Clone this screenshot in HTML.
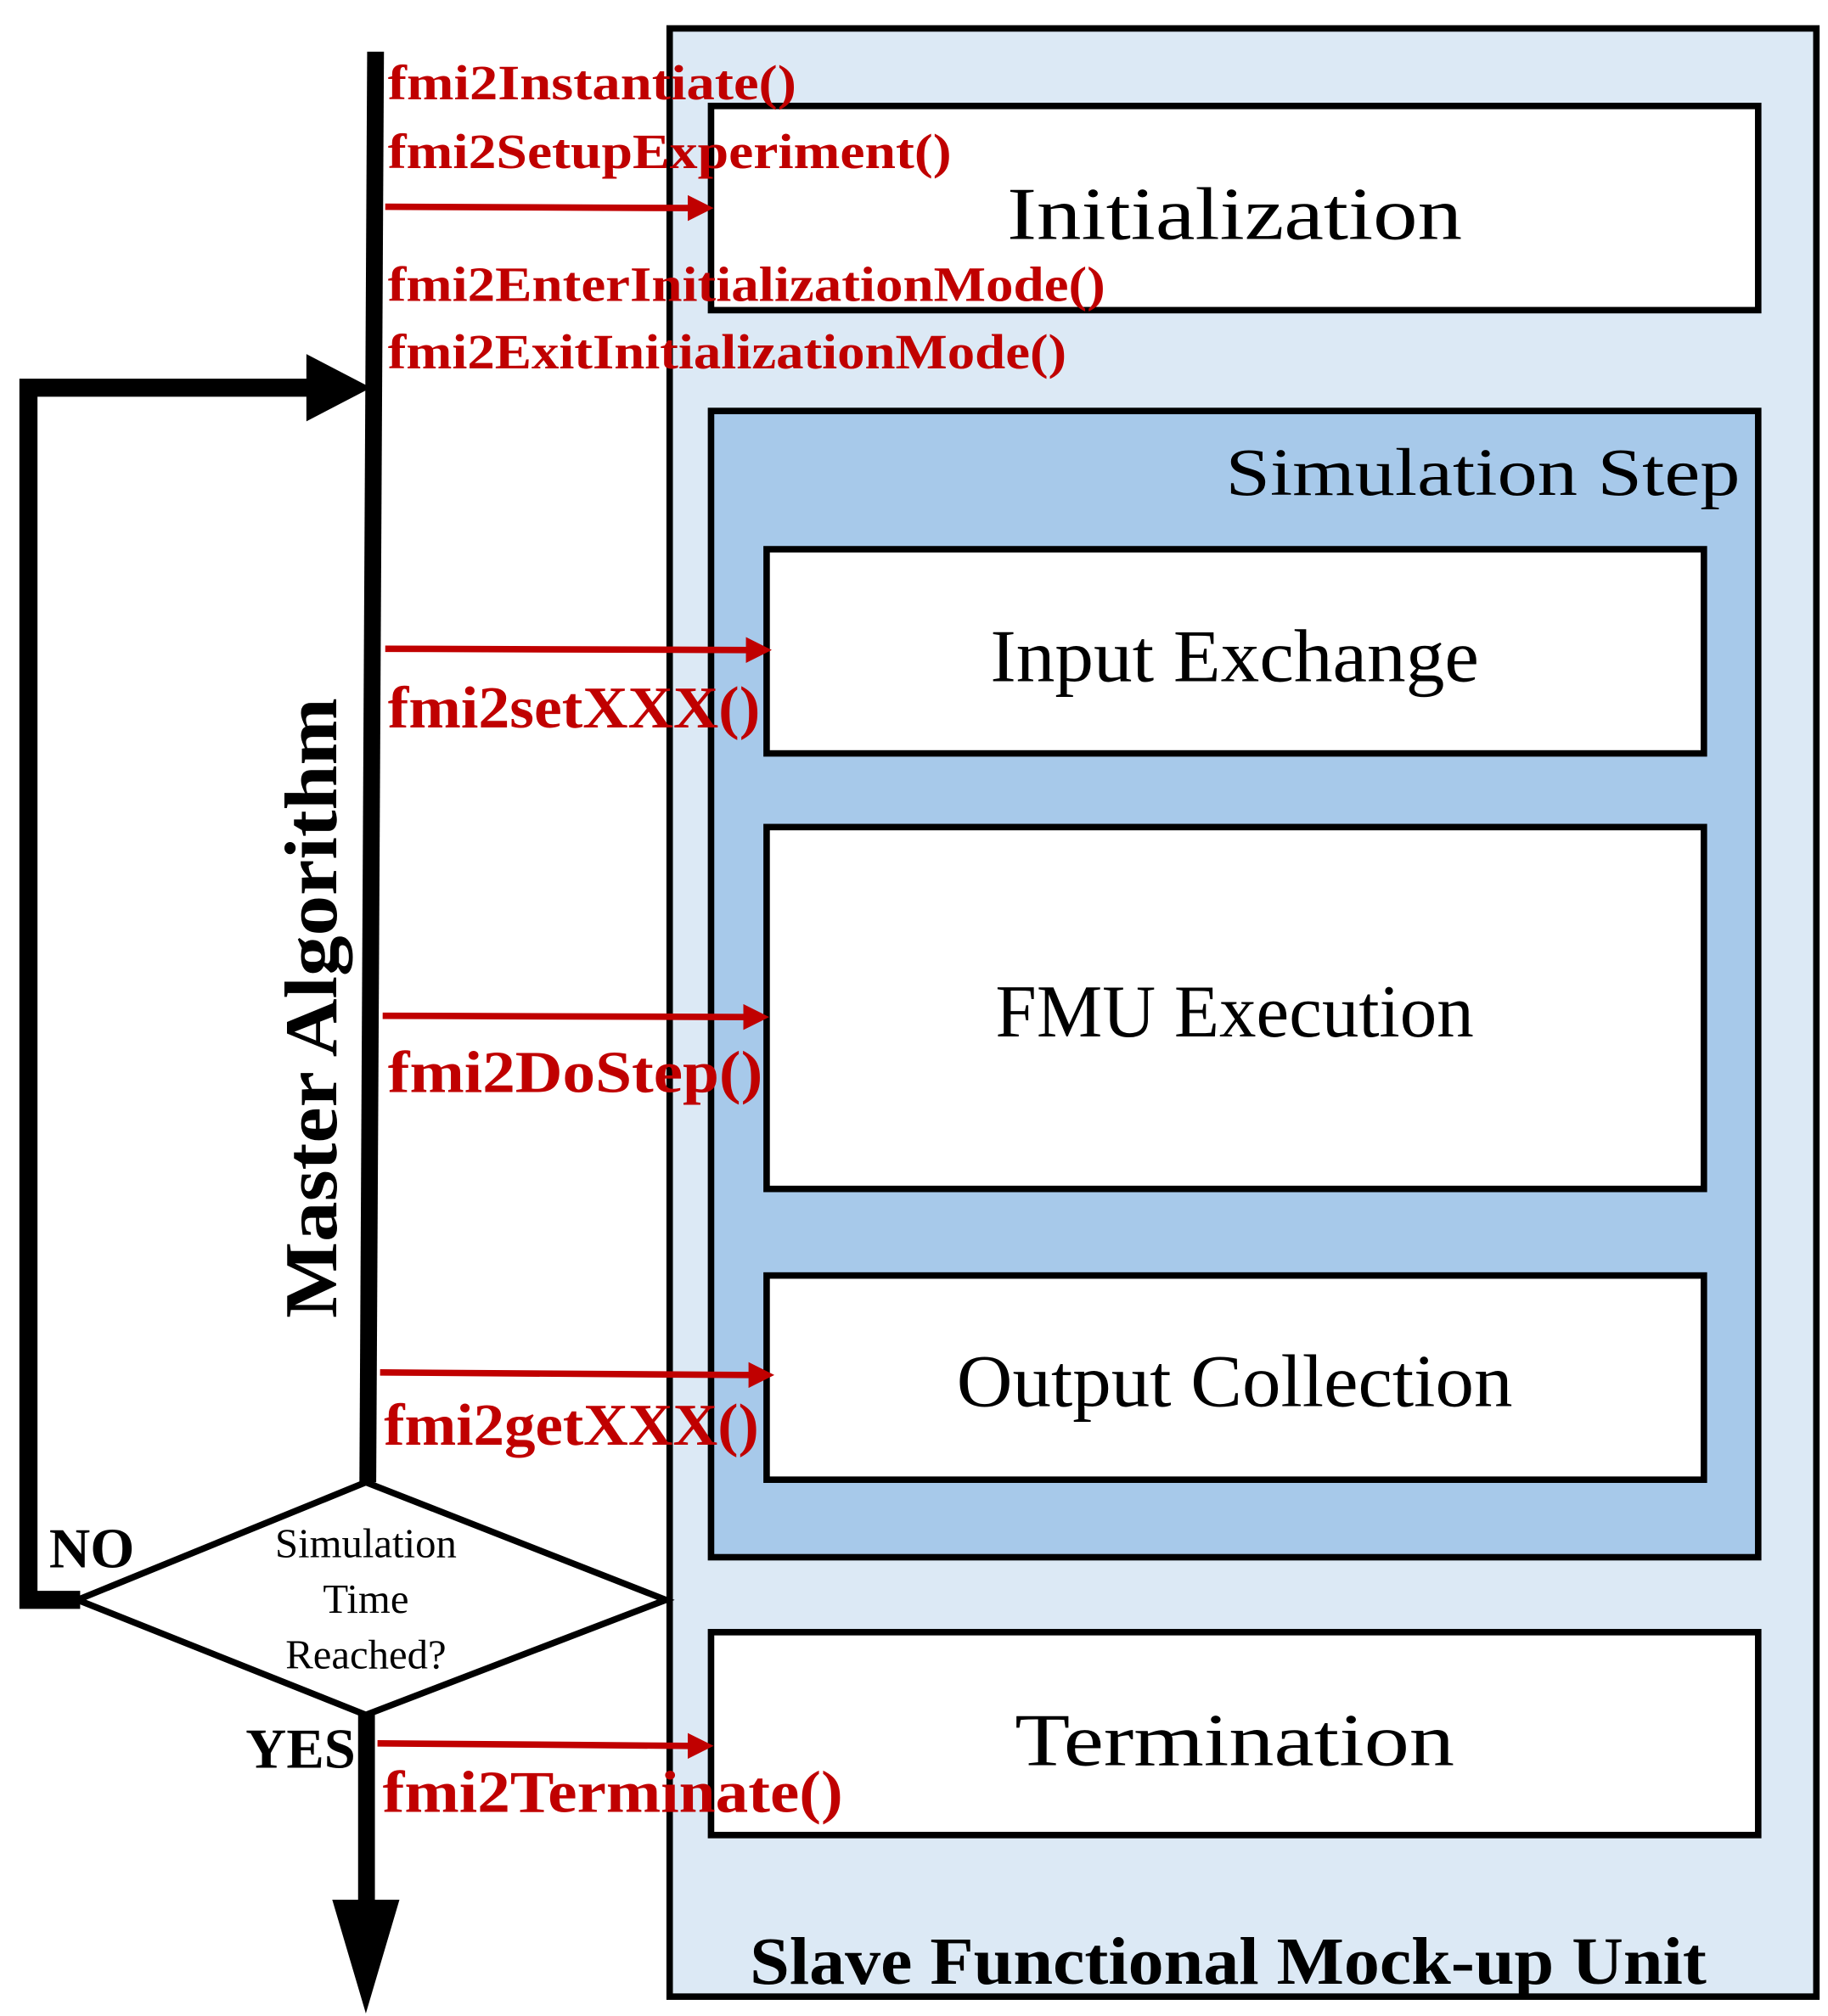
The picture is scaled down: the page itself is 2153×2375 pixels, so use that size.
<!DOCTYPE html>
<html><head><meta charset="utf-8"><style>html,body{margin:0;padding:0;background:#fff}svg{display:block}</style></head>
<body>
<svg width="2153" height="2375" viewBox="0 0 1414 1560" preserveAspectRatio="none" xmlns="http://www.w3.org/2000/svg" font-family="'Liberation Serif', serif">
<rect x="518" y="22" width="887" height="1523" fill="#dce9f5" stroke="#000" stroke-width="5"/>
<rect x="550" y="82" width="810" height="158" fill="#fff" stroke="#000" stroke-width="5"/>
<rect x="550" y="318" width="810" height="887" fill="#a7c9ea" stroke="#000" stroke-width="5"/>
<rect x="593" y="425" width="725" height="158" fill="#fff" stroke="#000" stroke-width="5"/>
<rect x="593" y="640" width="725" height="280" fill="#fff" stroke="#000" stroke-width="5"/>
<rect x="593" y="987" width="725" height="158" fill="#fff" stroke="#000" stroke-width="5"/>
<rect x="550" y="1263" width="810" height="157" fill="#fff" stroke="#000" stroke-width="5"/>
<g font-size="58" text-anchor="middle" fill="#000">
<text x="955" y="185" textLength="352" lengthAdjust="spacingAndGlyphs">Initialization</text>
<text x="955" y="527" textLength="378" lengthAdjust="spacingAndGlyphs">Input Exchange</text>
<text x="955" y="802" textLength="370" lengthAdjust="spacingAndGlyphs">FMU Execution</text>
<text x="955" y="1088" textLength="430" lengthAdjust="spacingAndGlyphs">Output Collection</text>
<text x="955" y="1366" textLength="340" lengthAdjust="spacingAndGlyphs">Termination</text>
</g>
<text x="948" y="383" font-size="52" textLength="398" lengthAdjust="spacingAndGlyphs">Simulation  Step</text>
<text x="950" y="1535" font-size="52" font-weight="bold" text-anchor="middle" textLength="740" lengthAdjust="spacingAndGlyphs">Slave Functional Mock-up Unit</text>
<!-- master line -->
<polygon points="284,40 297,40 291,1147 278,1147" fill="#000"/>
<!-- loop -->
<polyline points="62,1238 22,1238 22,300 245,300" fill="none" stroke="#000" stroke-width="14"/>
<polygon points="237,274 287,300 237,326" fill="#000"/>
<!-- diamond -->
<polygon points="283,1147 515,1238 283,1327 60,1238" fill="#fff" stroke="#000" stroke-width="5"/>
<g font-size="32" text-anchor="middle">
<text x="283" y="1205">Simulation</text>
<text x="283" y="1248">Time</text>
<text x="283" y="1291">Reached?</text>
</g>
<text x="38" y="1213" font-size="44" font-weight="bold">NO</text>
<text x="190" y="1368" font-size="44" font-weight="bold" textLength="85" lengthAdjust="spacingAndGlyphs">YES</text>
<!-- bottom arrow -->
<rect x="277" y="1325" width="13" height="150" fill="#000"/>
<polygon points="257,1470 309,1470 283,1558" fill="#000"/>
<!-- master text -->
<text transform="translate(260,780) rotate(-90)" font-size="58" font-weight="bold" text-anchor="middle" textLength="480" lengthAdjust="spacingAndGlyphs">Master Algorithm</text>
<!-- red arrows -->
<g stroke="#c00000" stroke-width="5">
<line x1="298" y1="160" x2="535" y2="161"/>
<line x1="298" y1="502" x2="580" y2="503"/>
<line x1="296" y1="786" x2="578" y2="787"/>
<line x1="294" y1="1062" x2="582" y2="1064"/>
<line x1="292" y1="1349" x2="535" y2="1351"/>
</g>
<g fill="#c00000">
<polygon points="532,151 552,161 532,171"/>
<polygon points="577,493 597,503 577,513"/>
<polygon points="575,777 595,787 575,797"/>
<polygon points="579,1054 599,1064 579,1074"/>
<polygon points="532,1341 552,1351 532,1361"/>
</g>
<g fill="#c00000" font-weight="bold">
<text x="300" y="77" font-size="38" textLength="316" lengthAdjust="spacingAndGlyphs">fmi2Instantiate()</text>
<text x="300" y="130" font-size="38" textLength="436" lengthAdjust="spacingAndGlyphs">fmi2SetupExperiment()</text>
<text x="300" y="233" font-size="38" textLength="555" lengthAdjust="spacingAndGlyphs">fmi2EnterInitializationMode()</text>
<text x="300" y="285" font-size="38" textLength="525" lengthAdjust="spacingAndGlyphs">fmi2ExitInitializationMode()</text>
<text x="300" y="563" font-size="46" textLength="288" lengthAdjust="spacingAndGlyphs">fmi2setXXX()</text>
<text x="300" y="845" font-size="46" textLength="290" lengthAdjust="spacingAndGlyphs">fmi2DoStep()</text>
<text x="297" y="1118" font-size="46" textLength="290" lengthAdjust="spacingAndGlyphs">fmi2getXXX()</text>
<text x="296" y="1402" font-size="46" textLength="356" lengthAdjust="spacingAndGlyphs">fmi2Terminate()</text>
</g>
</svg>
</body></html>
